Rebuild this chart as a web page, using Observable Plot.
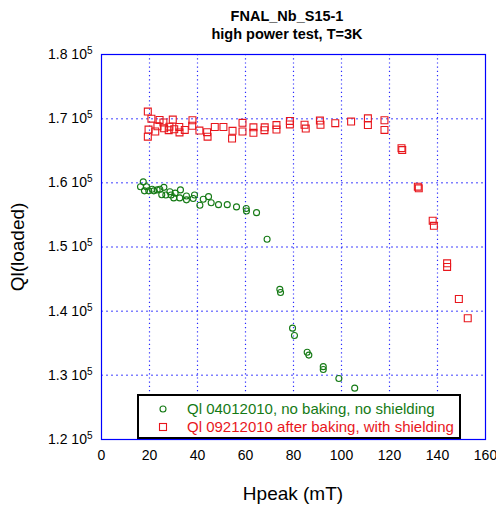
<!DOCTYPE html>
<html><head><meta charset="utf-8">
<script src="https://cdn.jsdelivr.net/npm/d3@7"></script>
<script src="https://cdn.jsdelivr.net/npm/@observablehq/plot@0.6"></script>
<style>body{margin:0;background:#fff} svg{font-family:"Liberation Sans",Arial,sans-serif}</style>
</head><body><div id="chart"></div>
<script>
const titleText = "FNAL_Nb_S15-1";
const subtitleText = "high power test, T=3K";
const xLabel = "Hpeak (mT)";
const yLabel = "Ql(loaded)";
const legendGreen = "Ql 04012010, no baking, no shielding";
const legendRed = "Ql 09212010 after baking, with shielding";

const xTicks = [0, 20, 40, 60, 80, 100, 120, 140, 160];
const yTicks = [120000, 130000, 140000, 150000, 160000, 170000, 180000];
const yTickLabels = ["1.2", "1.3", "1.4", "1.5", "1.6", "1.7", "1.8"];

const greenH = [17.4,16.25,17.9,18.75,19.7,21.1,21.8,23.2,24.3,26.0,25.1,26.8,28.5,29.0,30.7,30.1,32.9,32.6,35.4,35.4,38.2,38.75,41.0,42.4,44.6,45.7,48.75,52.4,56.25,60.3,60.4,64.6,69.0,74.3,74.6,79.6,80.4,85.7,86.4,92.4,92.4,98.9,105.5];
const greenQ = [160150,159400,158750,159400,158750,159000,158750,158900,159000,159300,158150,158100,158600,158100,158400,157650,158900,157650,157950,157350,157550,158100,156500,157450,157850,156900,156600,156600,156250,156000,155600,155350,151200,143400,142900,137350,136200,133600,133150,131350,130900,129500,128000];

const redH = [19.3,20.8,19.6,19.3,22.4,24.2,23.3,25.8,26.1,28.0,28.3,29.7,30.3,32.4,32.5,34.7,37.9,37.8,40.8,44.0,44.2,47.2,50.8,54.6,54.4,58.75,58.75,63.3,63.3,68.0,67.9,72.9,72.9,78.5,78.5,84.6,85.1,91.0,91.25,97.4,104.0,111.0,111.0,117.9,117.9,125.0,125.3,131.8,132.2,138.0,138.5,144.0,144.0,148.9,152.6];
const redQ = [171100,170000,168300,167200,168000,169800,168800,169400,168500,168200,168750,169850,168350,168700,167850,168250,169750,168900,168150,167900,167200,168700,168700,168100,166900,169350,168000,168650,167800,168650,168200,169000,168300,169650,169100,169050,168450,169700,169050,169300,169550,170050,169000,169750,168250,165400,165100,159400,159150,154100,153300,147450,146900,141900,138900];

const green = greenH.map((h, i) => ({h, q: greenQ[i]}));
const red = redH.map((h, i) => ({h, q: redQ[i]}));

const GREEN = "#157a15", RED = "#e8161c", BLUE = "#0000ff";

const plot = Plot.plot({
  width: 496, height: 506,
  marginLeft: 101, marginRight: 11, marginTop: 54, marginBottom: 67,
  style: {fontFamily: '"Liberation Sans", Arial, sans-serif', fontSize: "14px", background: "white", color: "black"},
  x: {domain: [0, 160]},
  y: {domain: [120000, 180000]},
  marks: [
    Plot.ruleX(xTicks.slice(1, -1), {x: d => d, stroke: "#2a2aff", strokeOpacity: 1, strokeWidth: 1.2, strokeDasharray: "1.2,3"}),
    Plot.ruleY(yTicks.slice(1, -1), {y: d => d, stroke: BLUE, strokeOpacity: 0.5, strokeWidth: 1.5, strokeDasharray: "2,3"}),
    Plot.axisX(xTicks, {tickSize: 0, tickPadding: 11, fontSize: 14, fill: "black", label: null}),
    Plot.axisY(yTicks, {tickSize: 0, tickPadding: 9, fontSize: 14, fill: "black", label: null,
      tickFormat: d => yTickLabels[yTicks.indexOf(d)] + " 10"}),
    Plot.frame({stroke: BLUE, strokeWidth: 1.2}),
    Plot.dot(green, {x: "h", y: "q", r: 3, stroke: GREEN, strokeWidth: 1.1, symbol: "circle"}),
    Plot.dot(red, {x: "h", y: "q", r: 3.9, stroke: RED, strokeWidth: 1.1, symbol: "square"})
  ]
});

// superscript exponent on y tick labels
d3.select(plot).selectAll("g[aria-label='y-axis tick label'] text").each(function() {
  d3.select(this).append("tspan").attr("dy", "-0.5em").attr("font-size", "10px").text("5");
});

const svg = d3.select(plot);
svg.append("text").attr("x", 287).attr("y", 21).attr("text-anchor", "middle")
  .attr("font-weight", "bold").attr("font-size", "14.5px").text(titleText);
svg.append("text").attr("x", 287).attr("y", 39).attr("text-anchor", "middle")
  .attr("font-weight", "bold").attr("font-size", "14.5px").text(subtitleText);
svg.append("text").attr("x", 293).attr("y", 500).attr("text-anchor", "middle")
  .attr("font-size", "19px").text(xLabel);
svg.append("text").attr("transform", "translate(24,247) rotate(-90)").attr("text-anchor", "middle")
  .attr("font-size", "19px").text(yLabel);

// legend
const lg = svg.append("g").attr("text-anchor", "start");
lg.append("rect").attr("x", 138).attr("y", 395).attr("width", 322).attr("height", 43)
  .attr("fill", "white").attr("stroke", "black").attr("stroke-width", 2);
lg.append("circle").attr("cx", 163).attr("cy", 409).attr("r", 3).attr("fill", "none").attr("stroke", GREEN).attr("stroke-width", 1.1);
lg.append("rect").attr("x", 159.5).attr("y", 423.5).attr("width", 7).attr("height", 7).attr("fill", "none").attr("stroke", RED).attr("stroke-width", 1.1);
lg.append("text").attr("x", 187).attr("y", 414).attr("text-anchor", "start").attr("font-size", "15px").attr("fill", GREEN).text(legendGreen);
lg.append("text").attr("x", 187).attr("y", 432).attr("text-anchor", "start").attr("font-size", "15px").attr("fill", RED).text(legendRed);

document.getElementById("chart").appendChild(plot);
</script>
</body></html>
